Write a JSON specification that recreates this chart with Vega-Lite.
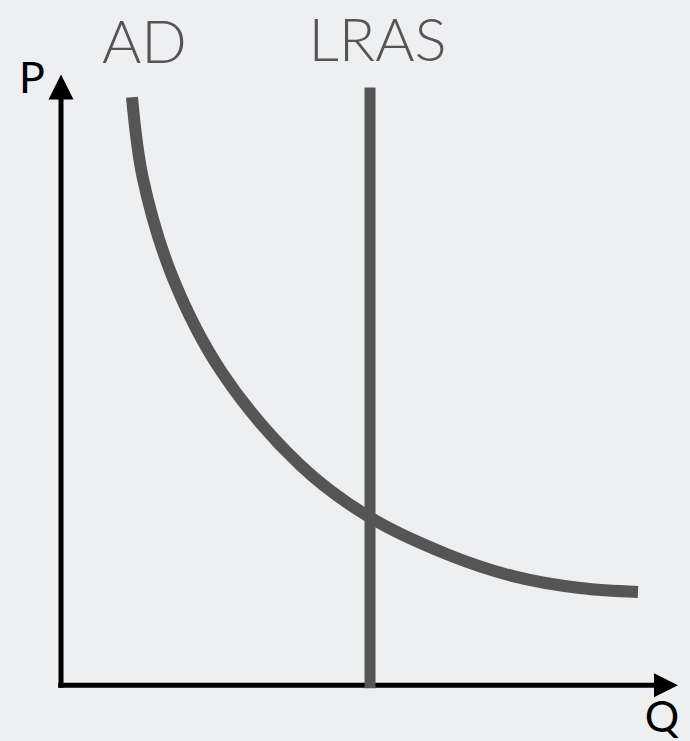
{
  "$schema": "https://vega.github.io/schema/vega-lite/v6.json",
  "width": 690,
  "height": 741,
  "autosize": {"type": "fit", "contains": "padding"},
  "padding": 0,
  "background": "#eeeff1",
  "config": {"view": {"stroke": null}},
  "encoding": {
    "x": {"field": "q", "type": "quantitative", "scale": {"domain": [-10, 105], "nice": false, "zero": false}, "axis": null},
    "y": {"field": "p", "type": "quantitative", "scale": {"domain": [-8.5, 115], "nice": false, "zero": false}, "axis": null}
  },
  "layer": [
    {
      "data": {"values": [
        {"axis": "P", "q": 0.17, "p": -0.4, "q2": 0.17, "p2": 99},
        {"axis": "Q", "q": -0.3, "p": 0, "q2": 99.5, "p2": 0}
      ]},
      "mark": {"type": "rule", "color": "#000000", "strokeWidth": 5, "strokeCap": "butt"},
      "encoding": {"x2": {"field": "q2"}, "y2": {"field": "p2"}}
    },
    {
      "data": {"values": [{"axis": "P", "q": 0.17, "p": 100.42}]},
      "mark": {"type": "point", "shape": "M0,-1L1,1L-1,1Z", "size": 625, "filled": true, "color": "#000000", "opacity": 1, "strokeWidth": 0}
    },
    {
      "data": {"values": [{"axis": "Q", "q": 101, "p": 0}]},
      "mark": {"type": "point", "shape": "M-1,-1L1,0L-1,1Z", "size": 576, "filled": true, "color": "#000000", "opacity": 1, "strokeWidth": 0}
    },
    {
      "data": {"values": [{"curve": "LRAS", "q": 51.67, "p": -0.5, "q2": 51.67, "p2": 100.33}]},
      "mark": {"type": "rule", "color": "#555555", "strokeWidth": 11, "strokeCap": "butt"},
      "encoding": {"x2": {"field": "q2"}, "y2": {"field": "p2"}}
    },
    {
      "data": {"values": [
        {"curve": "AD", "q": 12.0, "p": 98.67},
        {"curve": "AD", "q": 13.83, "p": 85.0},
        {"curve": "AD", "q": 18.83, "p": 68.33},
        {"curve": "AD", "q": 27.0, "p": 52.5},
        {"curve": "AD", "q": 40.0, "p": 37.0},
        {"curve": "AD", "q": 51.67, "p": 28.17},
        {"curve": "AD", "q": 64.5, "p": 22.0},
        {"curve": "AD", "q": 75.5, "p": 18.33},
        {"curve": "AD", "q": 86.67, "p": 16.33},
        {"curve": "AD", "q": 96.33, "p": 15.67}
      ]},
      "mark": {"type": "line", "color": "#555555", "strokeWidth": 12, "strokeCap": "butt", "interpolate": "catmull-rom"},
      "encoding": {"order": {"field": "q", "type": "quantitative"}}
    },
    {
      "data": {"values": [
        {"label": "AD", "q": 14.08, "p": 104.5},
        {"label": "LRAS", "q": 52.92, "p": 104.83}
      ]},
      "mark": {"type": "text", "font": "Lato", "fontWeight": 300, "fontSize": 60, "color": "#555555", "align": "center", "baseline": "alphabetic"},
      "encoding": {"text": {"field": "label"}}
    },
    {
      "data": {"values": [
        {"label": "P", "q": -4.67, "p": 99.33, "anchor": "center"},
        {"label": "Q", "q": 100.33, "p": -7.83, "anchor": "left"}
      ]},
      "mark": {"type": "text", "font": "Lato", "fontWeight": 400, "fontSize": 43, "color": "#000000", "baseline": "alphabetic"},
      "encoding": {"text": {"field": "label"}, "align": {"field": "anchor"}}
    }
  ]
}
